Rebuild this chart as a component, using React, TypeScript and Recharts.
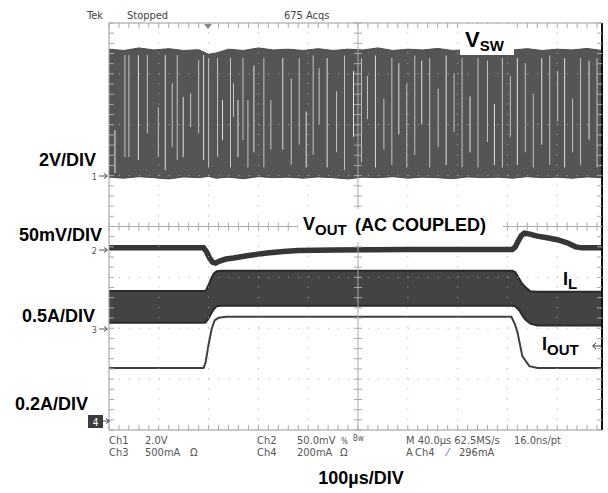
import React from 'react';
import { ComposedChart, Area, Line, XAxis, YAxis, ReferenceLine } from 'recharts';

// 100 µs/div, the screen shows 9.9 divisions
const T_END = 990;

// Ch1 - V_SW envelope (V)
const swTime = [0, 30, 60, 90, 120, 150, 180, 200, 215, 240, 270, 300, 330, 360, 390, 420, 450, 480, 510, 540, 570, 600, 630, 660, 690, 720, 750, 780, 810, 840, 870, 900, 930, 960, 990];
const swHigh = [4.95, 4.9, 5.0, 4.92, 4.97, 4.9, 4.93, 4.75, 4.8, 4.95, 4.9, 5.0, 4.92, 4.95, 4.9, 4.97, 4.9, 4.95, 4.92, 5.0, 4.9, 4.95, 4.92, 4.98, 4.9, 4.93, 4.95, 4.9, 4.92, 4.97, 4.9, 4.95, 4.92, 4.98, 4.9];
const swLow = [-0.08, -0.12, -0.06, -0.1, -0.15, -0.07, -0.1, -0.05, -0.12, -0.08, -0.14, -0.06, -0.1, -0.08, -0.12, -0.07, -0.1, -0.15, -0.08, -0.1, -0.06, -0.12, -0.08, -0.1, -0.14, -0.07, -0.1, -0.08, -0.12, -0.06, -0.1, -0.08, -0.12, -0.07, -0.1];
// light streaks inside the switching band: [time µs, low V, high V]
const swStreaks: [number, number, number][] = [
  [12, 0.08, 1.77], [32, 0.71, 4.72], [40, 0.71, 4.72], [59, 0.59, 4.72], [77, 1.65, 4.72],
  [99, 0.71, 2.67], [113, 0.2, 4.72], [127, 1.1, 3.62], [137, 0.59, 4.72], [149, 0.71, 3.07],
  [164, 1.89, 3.22], [180, 1.65, 4.52], [190, 0.59, 4.72], [200, 0.3, 4.6], [218, 0.71, 4.6],
  [228, 1.38, 2.95], [244, 0.3, 4.6], [250, 2.28, 3.62], [259, 0.71, 2.95], [269, 1.38, 4.6],
  [279, 0.3, 2.95], [291, 0.9, 4.3], [311, 0.3, 4.6], [325, 1.0, 2.95], [349, 1.0, 4.6],
  [366, 0.4, 3.8], [382, 1.2, 4.6], [396, 0.3, 2.5], [410, 0.8, 4.7], [422, 2.0, 4.2],
  [438, 0.3, 4.6], [457, 0.9, 3.3], [473, 0.2, 4.7], [491, 1.5, 4.1], [507, 0.5, 4.6],
  [519, 2.2, 3.9], [535, 0.3, 4.7], [552, 1.0, 3.0], [568, 0.4, 4.6], [582, 1.6, 4.4],
  [598, 0.3, 3.6], [614, 0.8, 4.7], [628, 2.0, 4.5], [644, 0.3, 4.6], [661, 1.1, 3.4],
  [677, 0.4, 4.7], [693, 1.7, 4.0], [709, 0.3, 4.6], [725, 0.9, 3.1], [741, 0.3, 4.6],
  [760, 1.3, 4.5], [774, 0.4, 2.8], [790, 0.3, 4.6], [806, 1.5, 3.9], [820, 0.4, 4.6],
  [836, 0.9, 4.4], [852, 0.3, 3.2], [869, 1.2, 4.6], [885, 0.4, 4.7], [901, 2.1, 4.1],
  [915, 0.3, 4.6], [931, 0.9, 3.0], [947, 0.4, 4.6], [964, 1.4, 4.5], [980, 0.3, 4.6],
];

// Ch2 - V_OUT, AC coupled (mV)
const voutTime = [0, 100, 190, 196, 202, 208, 214, 222, 235, 250, 280, 317, 350, 380, 450, 600, 700, 810, 816, 822, 828, 834, 845, 860, 880, 900, 920, 937, 950, 990];
const voutMv = [2, 2, 2, -2, -8, -12, -13, -11, -9, -8, -5.5, -3, -1.5, -0.5, 0, 0.5, 0.5, 0.5, 3, 9, 14, 16.5, 15.5, 13.5, 12, 10, 7, 3, 2, 2];

// Ch3 - I_L ripple envelope (mA)
const ilTime = [0, 190, 194, 200, 204, 210, 216, 225, 810, 816, 824, 830, 836, 846, 860, 990];
const ilLow = [50, 50, 52, 90, 130, 180, 210, 216, 216, 210, 170, 120, 80, 40, 22, 22];
const ilHigh = [360, 360, 362, 420, 470, 530, 555, 560, 560, 545, 480, 430, 400, 358, 354, 354];

// Ch4 - I_OUT (mA)
const ioutTime = [0, 190, 194, 200, 206, 212, 220, 235, 808, 815, 820, 830, 844, 861, 990];
const ioutMa = [208, 208, 230, 300, 360, 395, 405, 409, 409, 380, 350, 255, 215, 208, 208];

// scope channel settings: units per division and ground marker (div from centre)
const CH1 = { perDiv: 2, pos: 1.01 };
const CH2 = { perDiv: 50, pos: -0.46 };
const CH3 = { perDiv: 500, pos: -1.99 };
const CH4 = { perDiv: 200, pos: -3.82 };
const toDiv = (v: number, ch: { perDiv: number; pos: number }) => v / ch.perDiv + ch.pos;

const swData = swTime.map((t, i) => ({ t, band: [toDiv(swLow[i], CH1), toDiv(swHigh[i], CH1)] }));
const voutData = voutTime.map((t, i) => ({ t, y: toDiv(voutMv[i], CH2) }));
const ilData = ilTime.map((t, i) => ({ t, band: [toDiv(ilLow[i], CH3), toDiv(ilHigh[i], CH3)] }));
const ioutData = ioutTime.map((t, i) => ({ t, y: toDiv(ioutMa[i], CH4) }));

const GRID = '#aaa';
const minorT = Array.from({ length: 50 }, (_, k) => k * 20);
const minorY = Array.from({ length: 41 }, (_, k) => -4 + k * 0.2);

const scopeFont = "'Liberation Sans Narrow', 'DejaVu Sans Condensed', sans-serif";
const labelFont = "'Liberation Sans', Arial, sans-serif";

const Marker = ({ n, y }: { n: string; y: number }) => (
  <g>
    <text x={97} y={y + 3.5} fontSize={9} fill="#555" textAnchor="end" fontFamily={scopeFont}>{n}</text>
    <path d={`M99 ${y} H107 M104 ${y - 2.5} L107.5 ${y} L104 ${y + 2.5}`} stroke="#555" fill="none" />
  </g>
);

export default function App() {
  return (
    <div style={{ position: 'absolute', left: 0, top: 0, width: 608, height: 493, background: '#fff' }}>
      <ComposedChart width={608} height={493} margin={{ top: 23, right: 6, bottom: 63, left: 109 }}>
        <XAxis type="number" dataKey="t" domain={[0, T_END]} hide allowDataOverflow />
        <YAxis type="number" domain={[-4, 4]} hide allowDataOverflow />

        <Area data={swData} dataKey="band" type="linear" stroke="#4a4a4a" strokeWidth={1} fill="#555" fillOpacity={1} isAnimationActive={false} />
        <Area data={ilData} dataKey="band" type="linear" stroke="#2a2a2a" strokeWidth={2} fill="#434343" fillOpacity={1} isAnimationActive={false} />
        <Line data={voutData} dataKey="y" type="linear" stroke="#363636" strokeWidth={5.5} dot={false} isAnimationActive={false} />
        <Line data={ioutData} dataKey="y" type="linear" stroke="#404040" strokeWidth={2} dot={false} isAnimationActive={false} />

        {swStreaks.map(([t, lo, hi], i) => (
          <ReferenceLine key={`st-${i}`} segment={[{ x: t, y: toDiv(lo, CH1) }, { x: t, y: toDiv(hi, CH1) }]} stroke={i % 3 === 0 ? '#e2e2e2' : '#c4c4c4'} strokeWidth={1} zIndex={450} />
        ))}

        {[100, 200, 300, 400, 600, 700, 800, 900].map((t) => (
          <ReferenceLine key={`gx-${t}`} x={t} stroke={GRID} strokeDasharray="1 9.17" zIndex={450} />
        ))}
        {[-3, -2, -1, 1, 2, 3].map((y) => (
          <ReferenceLine key={`gy-${y}`} y={y} stroke={GRID} strokeDasharray="1 8.96" zIndex={450} />
        ))}
        <ReferenceLine x={500} stroke={GRID} zIndex={450} />
        <ReferenceLine y={0} stroke={GRID} zIndex={450} />
        <ReferenceLine x={0} stroke="#999" zIndex={450} />
        <ReferenceLine y={4} stroke="#999" zIndex={450} />
        <ReferenceLine y={-4} stroke="#999" zIndex={450} />
        <ReferenceLine x={T_END} stroke="#111" strokeWidth={2} zIndex={450} />

        {minorT.map((t) => (
          <ReferenceLine key={`tc-${t}`} segment={[{ x: t, y: -0.08 }, { x: t, y: 0.08 }]} stroke={GRID} zIndex={450} />
        ))}
        {minorT.map((t) => (
          <ReferenceLine key={`tt-${t}`} segment={[{ x: t, y: 4 }, { x: t, y: 3.9 }]} stroke={GRID} zIndex={450} />
        ))}
        {minorT.map((t) => (
          <ReferenceLine key={`tb-${t}`} segment={[{ x: t, y: -4 }, { x: t, y: -3.9 }]} stroke={GRID} zIndex={450} />
        ))}
        {minorY.map((y) => (
          <ReferenceLine key={`yc-${y.toFixed(1)}`} segment={[{ x: 492, y }, { x: 508, y }]} stroke={GRID} zIndex={450} />
        ))}
        {minorY.map((y) => (
          <ReferenceLine key={`yl-${y.toFixed(1)}`} segment={[{ x: 0, y }, { x: 10, y }]} stroke={GRID} zIndex={450} />
        ))}
        {minorY.map((y) => (
          <ReferenceLine key={`yr-${y.toFixed(1)}`} segment={[{ x: 980, y }, { x: T_END, y }]} stroke={GRID} zIndex={450} />
        ))}
      </ComposedChart>

      <svg width={608} height={493} style={{ position: 'absolute', left: 0, top: 0, pointerEvents: 'none' }}>
        {/* header */}
        <g fontFamily={scopeFont} fontSize={11} fill="#444">
          <text x={87} y={19}>Tek</text>
          <text x={127} y={19}>Stopped</text>
          <text x={284} y={19}>675 Acqs</text>
        </g>
        <path d="M204 24 L212 24 L208 29 Z" fill="#888" />

        {/* label boxes */}
        <rect x={460} y={24} width={54} height={31} fill="#fff" />
        <rect x={298} y={209} width={205} height={33} fill="#fff" />

        <g fontFamily={labelFont} fontWeight="bold" fill="#000">
          <text x={465} y={47} fontSize={22}>V<tspan fontSize={15} dy={4}>SW</tspan></text>
          <text x={303} y={230} fontSize={18}>V<tspan fontSize={15} dy={5}>OUT</tspan></text>
          <text x={355} y={231} fontSize={18}>(AC COUPLED)</text>
          <text x={563} y={285} fontSize={18}>I<tspan fontSize={15} dy={4}>L</tspan></text>
          <text x={542} y={350} fontSize={18}>I<tspan fontSize={15} dy={5}>OUT</tspan></text>

          <text x={39} y={166} fontSize={18}>2V/DIV</text>
          <text x={19} y={241} fontSize={18}>50mV/DIV</text>
          <text x={22} y={322} fontSize={18}>0.5A/DIV</text>
          <text x={15} y={410} fontSize={18}>0.2A/DIV</text>
          <text x={361} y={484} fontSize={18} textAnchor="middle">100µs/DIV</text>
        </g>

        {/* channel ground markers */}
        <Marker n="1" y={176} />
        <Marker n="2" y={250} />
        <Marker n="3" y={329} />
        <rect x={88} y={415} width={15} height={13} fill="#3c3c3c" />
        <text x={95.5} y={425.5} fontSize={10} fill="#fff" textAnchor="middle" fontFamily={scopeFont}>4</text>
        <path d="M103 421 H109 M106 418.5 L109.5 421 L106 423.5" stroke="#444" fill="none" />

        {/* trigger level */}
        <path d="M601 346 H593 M596 343 L592.5 346 L596 349" stroke="#333" fill="none" />

        {/* readout */}
        <g fontFamily={scopeFont} fontSize={11} fill="#555">
          <text x={109} y={444}>Ch1</text>
          <text x={145} y={444}>2.0V</text>
          <text x={257} y={444}>Ch2</text>
          <text x={297} y={444}>50.0mV</text>
          <text x={341} y={444} fontSize={8}>%</text>
          <text x={353} y={441} fontSize={8}>Bw</text>
          <text x={406} y={444}>M 40.0µs 62.5MS/s</text>
          <text x={514} y={444}>16.0ns/pt</text>

          <text x={109} y={456}>Ch3</text>
          <text x={145} y={456}>500mA</text>
          <text x={190} y={456}>Ω</text>
          <text x={257} y={456}>Ch4</text>
          <text x={297} y={456}>200mA</text>
          <text x={340} y={456}>Ω</text>
          <text x={406} y={456}>A</text>
          <text x={415} y={456}>Ch4</text>
          <text x={447} y={456}>⁄</text>
          <text x={459} y={456}>296mA</text>
        </g>
      </svg>
    </div>
  );
}
